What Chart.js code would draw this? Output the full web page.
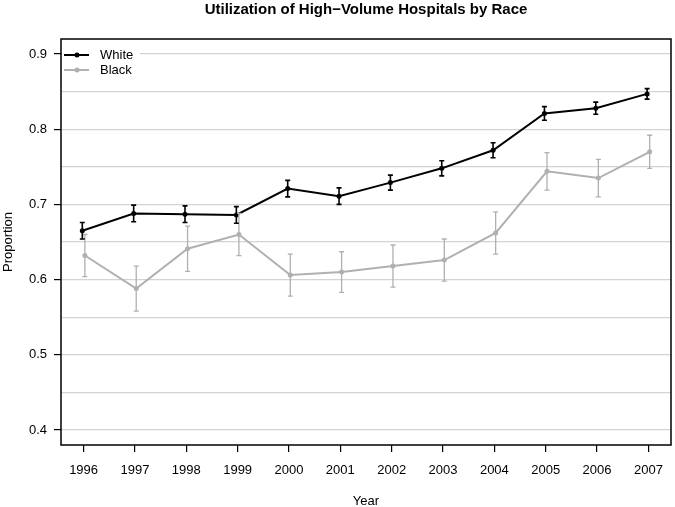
<!DOCTYPE html>
<html>
<head>
<meta charset="utf-8">
<script src="https://cdn.jsdelivr.net/npm/chart.js@4.4.0/dist/chart.umd.min.js"></script>
<style>
  body { margin: 0; background: #fff; }
  canvas { display: block; }
</style>
</head>
<body>
<canvas id="myChart" width="675" height="507"></canvas>
<script>
const years = [1996, 1997, 1998, 1999, 2000, 2001, 2002, 2003, 2004, 2005, 2006, 2007];
const whiteProp = [0.665, 0.688, 0.687, 0.686, 0.721, 0.711, 0.729, 0.748, 0.772, 0.821, 0.828, 0.847];
const whiteErr = [0.011, 0.011, 0.011, 0.011, 0.011, 0.011, 0.010, 0.010, 0.010, 0.009, 0.008, 0.007];
const blackProp = [0.632, 0.588, 0.641, 0.660, 0.606, 0.610, 0.618, 0.626, 0.662, 0.744, 0.735, 0.770];
const blackErr = [0.028, 0.030, 0.030, 0.028, 0.028, 0.027, 0.028, 0.028, 0.028, 0.025, 0.025, 0.022];
const yTicks = [0.4, 0.5, 0.6, 0.7, 0.8, 0.9];
const yGrid = [0.4, 0.45, 0.5, 0.55, 0.6, 0.65, 0.7, 0.75, 0.8, 0.85, 0.9];

const FONT = "'Liberation Sans', Arial, Helvetica, sans-serif";
const DODGE = 0.025;
const BLACK = '#000000';
const GREY = '#b0b0b0';

function toPoints(vals, shift) {
    return vals.map((v, i) => ({ x: years[i] + shift, y: v }));
}

const extras = {
    id: 'extras',
    afterDatasetsDraw(chart) {
        const ctx = chart.ctx;
        const xs = chart.scales.x;
        const ys = chart.scales.y;
        const series = [
            { vals: blackProp, err: blackErr, shift: DODGE, color: GREY, w: 1.3 },
            { vals: whiteProp, err: whiteErr, shift: -DODGE, color: BLACK, w: 1.6 }
        ];
        ctx.save();
        series.forEach((s) => {
            ctx.strokeStyle = s.color;
            ctx.lineWidth = s.w;
            s.vals.forEach((v, i) => {
                const px = xs.getPixelForValue(years[i] + s.shift);
                const lo = ys.getPixelForValue(v - s.err[i]);
                const hi = ys.getPixelForValue(v + s.err[i]);
                ctx.beginPath();
                ctx.moveTo(px, lo); ctx.lineTo(px, hi);
                ctx.moveTo(px - 2.5, lo); ctx.lineTo(px + 2.5, lo);
                ctx.moveTo(px - 2.5, hi); ctx.lineTo(px + 2.5, hi);
                ctx.stroke();
            });
        });
        ctx.restore();
    },
    afterDraw(chart) {
        const ctx = chart.ctx;
        const a = chart.chartArea;
        ctx.save();

        // legend
        ctx.fillStyle = '#fff';
        ctx.fillRect(a.left + 1, a.top + 1, 78, 40);
        const items = [['White', BLACK, 55], ['Black', GREY, 70]];
        items.forEach(([label, color, y]) => {
            ctx.strokeStyle = color;
            ctx.lineWidth = 2;
            ctx.beginPath();
            ctx.moveTo(64, y); ctx.lineTo(89, y);
            ctx.stroke();
            ctx.fillStyle = color;
            ctx.beginPath();
            ctx.arc(77, y, 2.5, 0, Math.PI * 2);
            ctx.fill();
            ctx.fillStyle = '#000';
            ctx.font = '13px ' + FONT;
            ctx.textAlign = 'left';
            ctx.textBaseline = 'middle';
            ctx.fillText(label, 100, y + 0.5);
        });

        // box
        ctx.strokeStyle = '#000';
        ctx.lineWidth = 1.5;
        ctx.strokeRect(a.left, a.top, a.right - a.left, a.bottom - a.top);

        // titles
        const cx = (a.left + a.right) / 2;
        ctx.fillStyle = '#000';
        ctx.textAlign = 'center';
        ctx.textBaseline = 'alphabetic';
        ctx.font = 'bold 15px ' + FONT;
        ctx.fillText('Utilization of High\u2212Volume Hospitals by Race', cx, 14);
        ctx.textBaseline = 'middle';
        ctx.font = '13px ' + FONT;
        ctx.fillText('Year', cx, 501);
        ctx.translate(8, (a.top + a.bottom) / 2);
        ctx.rotate(-Math.PI / 2);
        ctx.fillText('Proportion', 0, 0);
        ctx.restore();
    }
};

new Chart(document.getElementById('myChart'), {
    type: 'line',
    data: {
        datasets: [
            {
                label: 'White',
                data: toPoints(whiteProp, -DODGE),
                borderColor: BLACK,
                backgroundColor: BLACK,
                borderWidth: 2,
                pointRadius: 2.5,
                pointBorderWidth: 0,
                tension: 0
            },
            {
                label: 'Black',
                data: toPoints(blackProp, DODGE),
                borderColor: GREY,
                backgroundColor: GREY,
                borderWidth: 2,
                pointRadius: 2.5,
                pointBorderWidth: 0,
                tension: 0
            }
        ]
    },
    options: {
        responsive: false,
        animation: false,
        devicePixelRatio: 1,
        layout: { padding: { top: 39, right: 2, left: 0, bottom: 0 } },
        plugins: { legend: { display: false }, title: { display: false }, tooltip: { enabled: false } },
        scales: {
            x: {
                type: 'linear',
                min: 1995.56,
                max: 2007.44,
                afterBuildTicks: (scale) => { scale.ticks = years.map((v) => ({ value: v })); },
                afterFit: (scale) => { scale.height = 62; },
                border: { display: false },
                grid: { drawOnChartArea: false, color: '#000', tickLength: 7, lineWidth: 1.2 },
                ticks: {
                    padding: 11,
                    color: '#000',
                    font: { family: FONT, size: 13 },
                    maxRotation: 0,
                    callback: (v) => String(v)
                }
            },
            y: {
                min: 0.38,
                max: 0.92,
                afterBuildTicks: (scale) => { scale.ticks = yGrid.map((v) => ({ value: v })); },
                afterFit: (scale) => { scale.width = 61; },
                border: { display: false },
                grid: {
                    color: '#d3d3d3',
                    lineWidth: 1.2,
                    tickLength: 7,
                    tickColor: (c) => yTicks.some((t) => Math.abs(t - c.tick.value) < 1e-6) ? '#000' : 'rgba(0,0,0,0)'
                },
                ticks: {
                    padding: 7,
                    color: '#000',
                    font: { family: FONT, size: 13 },
                    callback: (v) => yTicks.some((t) => Math.abs(t - v) < 1e-6) ? v.toFixed(1) : ''
                }
            }
        }
    },
    plugins: [extras]
});
</script>
</body>
</html>
